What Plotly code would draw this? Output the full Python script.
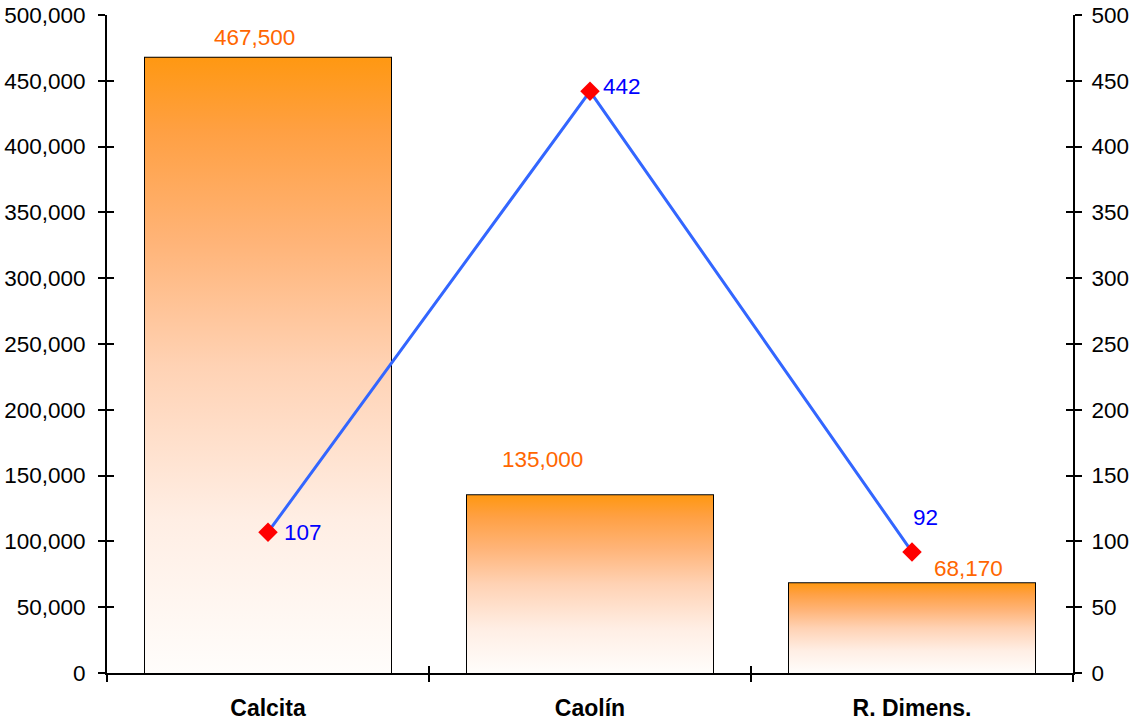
import plotly.graph_objects as go

categories = ["Calcita", "Caolín", "R. Dimens."]
bar_values = [467500, 135000, 68170]
line_values = [107, 442, 92]
left_ticks = [0, 50000, 100000, 150000, 200000, 250000, 300000, 350000, 400000, 450000, 500000]
right_ticks = [0, 50, 100, 150, 200, 250, 300, 350, 400, 450, 500]

FONT = "Liberation Sans, Arial, sans-serif"
FS = 22.5
FS_CAT = 23
BAR_W = 0.764
xpos = list(range(len(categories)))
boundaries = [i - 0.5 for i in range(len(categories) + 1)]

grad = [[0.0, "#FFFDFB"], [0.25, "#FFEEE4"], [0.5, "#FFD2B4"], [0.7, "#FFB478"],
        [0.88, "#FFA043"], [1.0, "#FF9812"]]

fig = go.Figure()

# gradient-filled bar bodies
for xi, v in zip(xpos, bar_values):
    x0, x1 = xi - BAR_W / 2, xi + BAR_W / 2
    fig.add_trace(go.Scatter(
        x=[x0, x1, x1, x0, x0], y=[0, 0, v, v, 0], mode="lines",
        fill="toself", line=dict(width=0, color="rgba(0,0,0,0)"),
        fillgradient=dict(type="vertical", colorscale=grad),
        hoverinfo="skip", showlegend=False, xaxis="x", yaxis="y"))

# bar outlines
fig.add_trace(go.Bar(
    x=xpos, y=bar_values, width=BAR_W,
    marker=dict(color="rgba(0,0,0,0)", line=dict(color="black", width=2)),
    showlegend=False, xaxis="x", yaxis="y"))

# line on secondary axis
fig.add_trace(go.Scatter(
    x=xpos, y=line_values, mode="lines+markers",
    line=dict(color="#3366FF", width=3),
    marker=dict(symbol="diamond", size=15, color="#FF0000"),
    showlegend=False, xaxis="x", yaxis="y2"))

# dummy traces to anchor overlay axes
fig.add_trace(go.Scatter(x=[None], y=[None], xaxis="x2", yaxis="y3", showlegend=False))
fig.add_trace(go.Scatter(x=[None], y=[None], xaxis="x3", yaxis="y4", showlegend=False))

# bar value labels
bar_shift = [(-14, 20), (-48, 36), (56, 15)]
for xi, v, (dx, dy) in zip(xpos, bar_values, bar_shift):
    fig.add_annotation(x=xi, y=v, xref="x", yref="y", text=f"{v:,}", showarrow=False,
                       xshift=dx, yshift=dy, font=dict(family=FONT, size=FS, color="#FF6600"))

# line value labels
line_shift = [(35, 0), (32, 5), (13, 34)]
for xi, v, (dx, dy) in zip(xpos, line_values, line_shift):
    fig.add_annotation(x=xi, y=v, xref="x", yref="y2", text=str(v), showarrow=False,
                       xshift=dx, yshift=dy, font=dict(family=FONT, size=FS, color="#0000FF"))

rng_x = [-0.5, len(categories) - 0.5]
common = dict(automargin=False, showgrid=False, zeroline=False)
fig.update_layout(
    template="none",
    width=1130, height=723,
    margin=dict(l=107, r=57, t=15, b=50, autoexpand=False),
    paper_bgcolor="white", plot_bgcolor="white",
    font=dict(family=FONT, size=FS, color="black"),
    xaxis=dict(range=rng_x, tickvals=xpos, ticktext=[f"<b>{c}</b>" for c in categories],
               ticks="outside", ticklen=13, tickcolor="rgba(0,0,0,0)",
               showline=True, linecolor="black", linewidth=2,
               tickfont=dict(family=FONT, size=FS_CAT, color="black"), **common),
    xaxis2=dict(range=rng_x, overlaying="x", anchor="y", side="bottom", tickvals=boundaries,
                ticks="outside", ticklen=8, tickwidth=1.5, tickcolor="black",
                showticklabels=False, showline=False, **common),
    xaxis3=dict(range=rng_x, overlaying="x", anchor="y", side="bottom", tickvals=boundaries,
                ticks="inside", ticklen=7, tickwidth=1.5, tickcolor="black",
                showticklabels=False, showline=False, **common),
    yaxis=dict(range=[0, 500000], tickvals=left_ticks, tickformat=",",
               ticks="outside", ticklen=7, tickwidth=1.5, tickcolor="black",
               ticklabelstandoff=8,
               showline=True, linecolor="black", linewidth=2, **common),
    yaxis2=dict(range=[0, 500], tickvals=right_ticks, overlaying="y", side="right", anchor="x",
                ticks="outside", ticklen=7, tickwidth=1.5, tickcolor="black",
                ticklabelstandoff=5,
                showline=True, linecolor="black", linewidth=2, **common),
    yaxis3=dict(range=[0, 500000], tickvals=left_ticks, overlaying="y", side="left", anchor="x2",
                ticks="inside", ticklen=7, tickwidth=1.5, tickcolor="black",
                showticklabels=False, showline=False, **common),
    yaxis4=dict(range=[0, 500], tickvals=right_ticks, overlaying="y", side="right", anchor="x3",
                ticks="inside", ticklen=7, tickwidth=1.5, tickcolor="black",
                showticklabels=False, showline=False, **common),
)

fig.write_html("out.html", config={"displayModeBar": False},
               post_script="document.body.style.margin='0';document.body.style.overflow='hidden';")
